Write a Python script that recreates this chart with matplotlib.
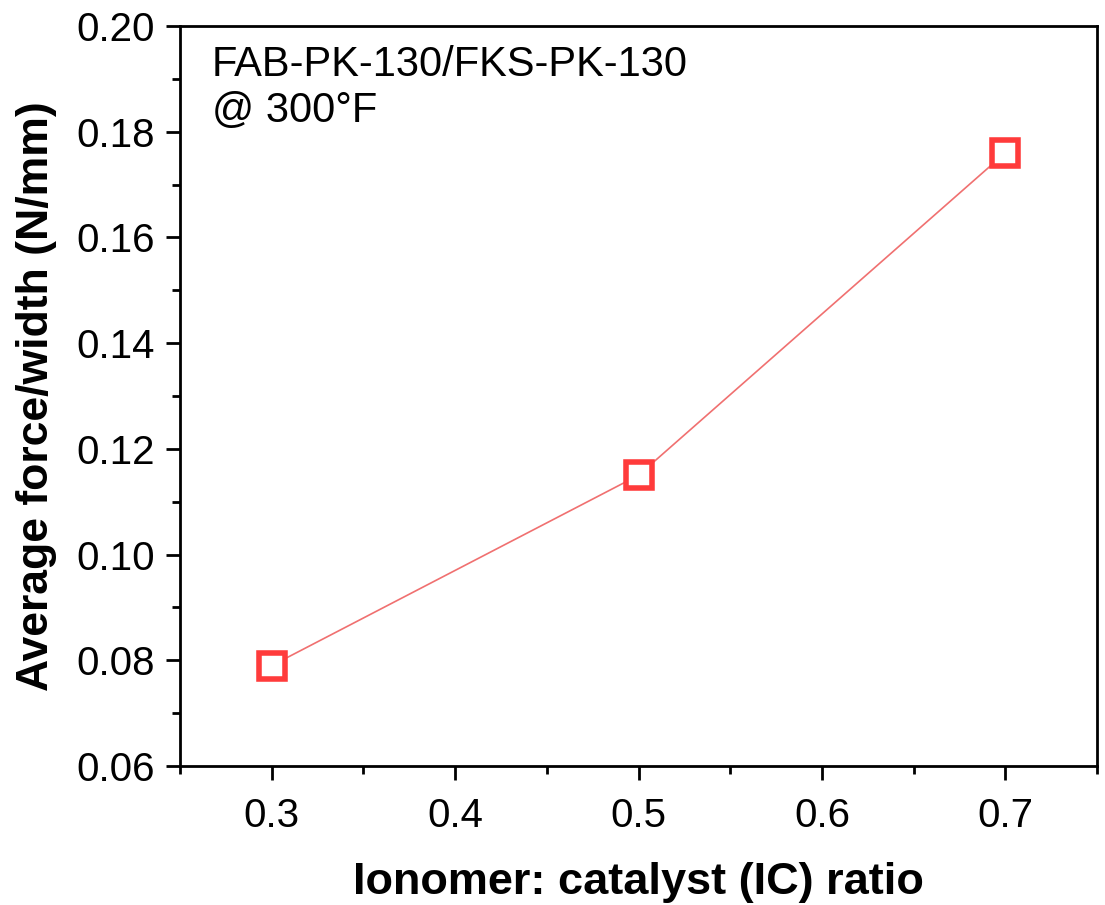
import matplotlib
matplotlib.use('Agg')
import matplotlib.pyplot as plt
from matplotlib.ticker import MultipleLocator

plt.rcParams['font.family'] = ['Liberation Sans', 'DejaVu Sans']

# data
ic_ratio = [0.3, 0.5, 0.7]
force = [0.079, 0.115, 0.176]

fig = plt.figure(figsize=(11.05, 9.05), dpi=100)
ax = fig.add_axes([180 / 1105, 1 - 766 / 905, (1097 - 180) / 1105, (766 - 26) / 905])

ax.plot(ic_ratio, force, color='#f07070', lw=1.2, marker='s', ms=19,
        mfc='white', mec='#ff3b3b', mew=4)

ax.set_xlim(0.25, 0.75)
ax.set_ylim(0.06, 0.20)
ax.xaxis.set_major_locator(MultipleLocator(0.1))
ax.xaxis.set_minor_locator(MultipleLocator(0.05))
ax.yaxis.set_major_locator(MultipleLocator(0.02))
ax.yaxis.set_minor_locator(MultipleLocator(0.01))
ax.xaxis.set_major_formatter(plt.FormatStrFormatter('%.1f'))
ax.yaxis.set_major_formatter(plt.FormatStrFormatter('%.2f'))

for s in ax.spines.values():
    s.set_linewidth(2)
ax.tick_params(which='major', length=10, width=2, labelsize=29, pad=8)
ax.tick_params(axis='x', which='major', pad=12)
ax.tick_params(which='minor', length=6, width=2)

ax.set_xlabel('Ionomer: catalyst (IC) ratio', fontsize=32.5, fontweight='bold', labelpad=20)
ax.set_ylabel('Average force/width (N/mm)', fontsize=32, fontweight='bold', labelpad=14)

ax.text(0.035, 0.975, 'FAB-PK-130/FKS-PK-130\n@ 300°F', transform=ax.transAxes,
        fontsize=30, va='top', ha='left', linespacing=1.2)

fig.savefig('out.png', dpi=100)
